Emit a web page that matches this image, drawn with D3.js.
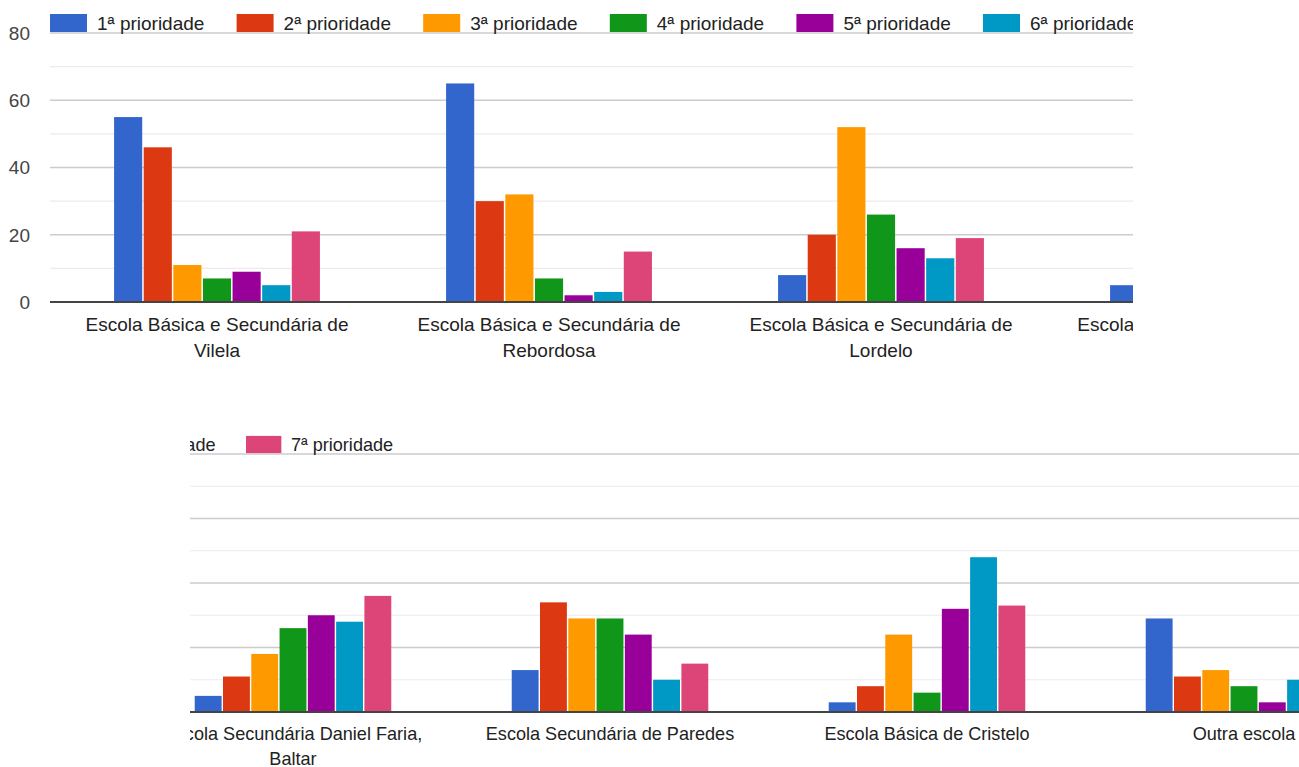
<!DOCTYPE html>
<html>
<head>
<meta charset="utf-8">
<script src="https://cdnjs.cloudflare.com/ajax/libs/d3/7.8.5/d3.min.js"></script>
<style>
  body { margin: 0; background: #fff; }
  svg { display: block; }
</style>
</head>
<body>
<script>
// chart data
var categories = [
    "Escola Básica e Secundária de Vilela",
    "Escola Básica e Secundária de Rebordosa",
    "Escola Básica e Secundária de Lordelo",
    "Escola Secundária Daniel Faria, Baltar",
    "Escola Secundária de Paredes",
    "Escola Básica de Cristelo",
    "Outra escola"
];
var seriesNames = ["1ª prioridade", "2ª prioridade", "3ª prioridade", "4ª prioridade",
                   "5ª prioridade", "6ª prioridade", "7ª prioridade"];
var colors = ["#3366cc", "#dc3912", "#ff9900", "#109618", "#990099", "#0099c6", "#dd4477"];

var prio1 = [55, 65, 8, 5, 13, 3, 29];
var prio2 = [46, 30, 20, 11, 34, 8, 11];
var prio3 = [11, 32, 52, 18, 29, 24, 13];
var prio4 = [7, 7, 26, 26, 29, 6, 8];
var prio5 = [9, 2, 16, 30, 24, 32, 3];
var prio6 = [5, 3, 13, 28, 10, 48, 10];
var prio7 = [21, 15, 19, 36, 15, 33, null]; // last one is off screen
var seriesValues = [prio1, prio2, prio3, prio4, prio5, prio6, prio7];

var yTicks = [0, 20, 40, 60, 80];
var yMinor = [10, 30, 50, 70];

var svg = d3.select("body").append("svg")
    .attr("width", 1299)
    .attr("height", 767);

// the picture is two views of the same chart, each cropped differently
var panels = [
    { id: "top", k: 1, font: 19, bandStart: 51, step: 332,
      legendX: 50, legendStep: 186.6, legendY: 23,
      yBase: 302, yTop: 33, gridLeft: 50, showY: true,
      clip: [0, 0, 1133, 380] },
    { id: "bottom", k: 0.955, font: 18.1, bandStart: 293 - 3.5 * 317, step: 317,
      legendX: 246 - 6 * 177.6, legendStep: 177.6, legendY: 444.5,
      yBase: 712, yTop: 454, gridLeft: 190, showY: false,
      clip: [190, 380, 1109, 387] }
];

panels.forEach(function(p) {
    svg.append("clipPath").attr("id", "clip-" + p.id)
        .append("rect")
        .attr("x", p.clip[0]).attr("y", p.clip[1])
        .attr("width", p.clip[2]).attr("height", p.clip[3]);

    var g = svg.append("g").attr("clip-path", "url(#clip-" + p.id + ")")
        .style("font-family", "'Liberation Sans', Arial, sans-serif");

    var left = p.clip[0], right = p.clip[0] + p.clip[2];

    var y = d3.scaleLinear().domain([0, 80]).range([p.yBase, p.yTop]);

    var x = d3.scaleBand().domain(categories)
        .range([p.bandStart, p.bandStart + categories.length * p.step])
        .paddingInner(0.38).paddingOuter(0.19);

    var xs = d3.scaleBand().domain(d3.range(seriesNames.length))
        .range([0, x.bandwidth()])
        .paddingInner(0.05);

    // gridlines
    g.selectAll(".minor").data(yMinor).enter().append("line")
        .attr("x1", p.gridLeft).attr("x2", right)
        .attr("y1", function(d) { return y(d); })
        .attr("y2", function(d) { return y(d); })
        .attr("stroke", "#ebebeb").attr("stroke-width", 1.2);

    g.selectAll(".major").data(yTicks.slice(1)).enter().append("line")
        .attr("x1", p.gridLeft).attr("x2", right)
        .attr("y1", function(d) { return y(d); })
        .attr("y2", function(d) { return y(d); })
        .attr("stroke", "#cccccc").attr("stroke-width", 1.3);

    // y labels (only the top view shows them)
    if (p.showY) {
        g.selectAll(".ylab").data(yTicks).enter().append("text")
            .attr("x", 30 * p.k)
            .attr("y", function(d) { return y(d) + p.font * 0.36; })
            .attr("text-anchor", "end")
            .attr("fill", "#444")
            .style("font-size", p.font + "px")
            .text(function(d) { return d; });
    }

    // bars
    seriesValues.forEach(function(vals, s) {
        vals.forEach(function(v, i) {
            if (v == null) return;
            var bx = x(categories[i]) + xs(s);
            if (bx > right || bx + xs.bandwidth() < left) return;
            g.append("rect")
                .attr("x", bx)
                .attr("width", xs.bandwidth())
                .attr("y", y(v))
                .attr("height", y(0) - y(v))
                .attr("fill", colors[s]);
        });
    });

    // baseline
    g.append("line")
        .attr("x1", p.gridLeft).attr("x2", right)
        .attr("y1", y(0)).attr("y2", y(0))
        .attr("stroke", "#444").attr("stroke-width", 1.8);

    // category labels, wrapped
    var maxW = p.step * 0.9;
    categories.forEach(function(c) {
        var cx = x(c) + x.bandwidth() / 2;
        if (cx - maxW / 2 > right || cx + maxW / 2 < left) return;
        var t = g.append("text")
            .attr("x", cx)
            .attr("y", p.yBase + 29 * p.k)
            .attr("text-anchor", "middle")
            .attr("fill", "#222")
            .style("font-size", p.font + "px");
        var words = c.split(" "), line = [];
        var tspan = t.append("tspan").attr("x", cx).attr("dy", 0);
        words.forEach(function(w) {
            line.push(w);
            tspan.text(line.join(" "));
            if (tspan.node().getComputedTextLength() > maxW && line.length > 1) {
                line.pop();
                tspan.text(line.join(" "));
                line = [w];
                tspan = t.append("tspan").attr("x", cx)
                    .attr("dy", 26 * p.k).text(w);
            }
        });
    });

    // legend
    var sw = 37 * p.k, sh = 18 * p.k;
    seriesNames.forEach(function(name, i) {
        var lx = p.legendX + i * p.legendStep;
        if (lx > right || lx + 160 * p.k < left) return;
        g.append("rect")
            .attr("x", lx).attr("y", p.legendY - sh / 2)
            .attr("width", sw).attr("height", sh)
            .attr("fill", colors[i]);
        g.append("text")
            .attr("x", lx + 47 * p.k)
            .attr("y", p.legendY + 6.8 * p.k)
            .attr("fill", "#222")
            .style("font-size", p.font + "px")
            .text(name);
    });
});
</script>
</body>
</html>
